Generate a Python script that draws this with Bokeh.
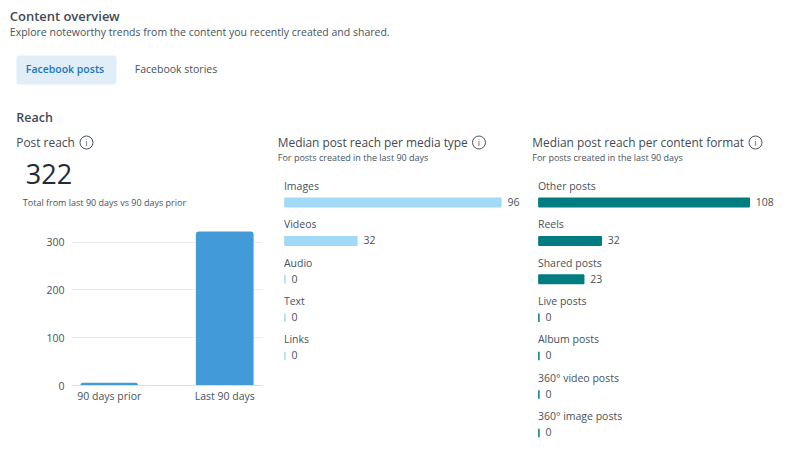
from bokeh.plotting import figure
from bokeh.layouts import column, row
from bokeh.models import Range1d, FactorRange, ColumnDataSource
from bokeh.core.properties import value
from bokeh.embed import file_html
from bokeh.resources import INLINE

# ---- data ----
reach_periods = ["90 days prior", "Last 90 days"]
reach_values = [6, 322]
reach_ticks = [0, 100, 200, 300]
media_types = ["Images", "Videos", "Audio", "Text", "Links"]
media_values = [96, 32, 0, 0, 0]
format_types = ["Other posts", "Reels", "Shared posts", "Live posts", "Album posts",
                "360° video posts", "360° image posts"]
format_values = [108, 32, 23, 0, 0, 0, 0]

FONT = "Open Sans"
SEMI = "Open Sans SemiBold"
INK = "#3f4a54"
SOFT = "#47525c"
DARK = "#1f2c3a"
ROW_PX = 38.4


def txt(p, x, y, s, size, color=INK, style="normal", align="left", font=FONT, **kw):
    p.text([x - 0.7], [y - 0.7], text=[s], text_font=value(font), text_font_size=f"{size}px",
           text_color=color, text_font_style=style, text_align=align,
           text_baseline="middle", **kw)


def info(p, x, y, **kw):
    p.scatter([x], [y], size=13, marker="circle", fill_color=None, line_color="#4a545e",
              line_width=1, **kw)
    txt(p, x + 0.7, y + 0.7, "i", 9, color="#4a545e", align="center", **kw)


def page_fig(x0, x1, y0, y1):
    p = figure(width=x1 - x0, height=y1 - y0, x_range=Range1d(x0, x1), y_range=Range1d(y1, y0),
               x_axis_location=None, y_axis_location=None, toolbar_location=None,
               output_backend="svg", min_border=0, frame_align=False)
    p.grid.visible = False
    p.outline_line_color = None
    return p


# ---- header ----
head = page_fig(0, 781, 0, 130)
txt(head, 10, 16.5, "Content overview", 13, font=SEMI)
txt(head, 10, 32, "Explore noteworthy trends from the content you recently created and shared.", 10.5, color=SOFT)
head.quad(left=[16], right=[116], top=[55], bottom=[84], fill_color="#e1eef8", line_color=None, border_radius=3)
txt(head, 26, 69.5, "Facebook posts", 10.5, color="#1a75bb", font=SEMI)
txt(head, 135, 69.5, "Facebook stories", 10.5, color=SOFT)
txt(head, 16.5, 117.5, "Reach", 12.5, font=SEMI)

# ---- left column ----
lhead = page_fig(0, 270, 130, 222)
txt(lhead, 16.5, 142, "Post reach", 11.9)
info(lhead, 86, 142)
txt(lhead, 26, 174.5, "322", 27, color=DARK)
txt(lhead, 23, 203, "Total from last 90 days vs 90 days prior", 9, color=SOFT)

chart = figure(width=270, height=188, frame_width=191, frame_height=163,
               x_range=FactorRange(factors=reach_periods, range_padding=-0.173),
               y_range=Range1d(0, 341), toolbar_location=None, output_backend="svg",
               min_border_left=71, min_border_right=8, min_border_top=0, min_border_bottom=25,
               frame_align=False)
chart.vbar(x=reach_periods, top=reach_values, width=0.5, fill_color="#429bd8",
           line_color=None, border_radius=(3, 3, 0, 0))
chart.outline_line_color = None
chart.xgrid.visible = False
chart.ygrid.grid_line_color = "#e9eaec"
chart.ygrid.level = "underlay"
chart.yaxis.ticker = reach_ticks
chart.yaxis.axis_line_color = None
chart.yaxis.major_tick_line_color = None
chart.yaxis.minor_tick_line_color = None
chart.yaxis.major_label_standoff = 1
chart.xaxis.axis_line_color = "#dcdee0"
chart.xaxis.major_tick_line_color = None
chart.xaxis.minor_tick_line_color = None
chart.xaxis.major_label_standoff = -3
for ax in (chart.xaxis, chart.yaxis):
    ax.major_label_text_font = FONT
    ax.major_label_text_font_size = "10.5px"
    ax.major_label_text_color = SOFT


# ---- horizontal bar panels ----
def bar_panel(x0, x1, zero_x, px_per_unit, cats, vals, color, title, icon_x, title_x):
    y0, y1, first = 130, 440, 202
    p = figure(width=x1 - x0, height=y1 - y0,
               x_range=Range1d((x0 - zero_x) / px_per_unit, (x1 - zero_x) / px_per_unit),
               y_range=Range1d((y1 - first) / ROW_PX, (y0 - first) / ROW_PX),
               x_axis_location=None, y_axis_location=None, toolbar_location=None,
               output_backend="svg", min_border=0, frame_align=False)
    p.grid.visible = False
    p.outline_line_color = None
    p.extra_x_ranges["px"] = Range1d(x0, x1)
    p.extra_y_ranges["px"] = Range1d(y1, y0)
    kw = dict(x_range_name="px", y_range_name="px")
    txt(p, title_x, 142, title, 11.9, **kw)
    info(p, icon_x, 142, **kw)
    txt(p, title_x, 158, "For posts created in the last 90 days", 9, color=SOFT, **kw)

    idx = list(range(len(cats)))
    src = ColumnDataSource(dict(y=idx, cat=cats, val=vals, lab=[str(v) for v in vals]))
    p.hbar(y="y", left=0, right="val", height=8.5 / ROW_PX, source=src, fill_color=color,
           line_color=color, line_width=1.5)
    p.text(x=0, y="y", text="cat", source=src, text_font=value(FONT), text_font_size="10.5px",
           text_color=SOFT, text_baseline="middle", x_offset=-1, y_offset=-16.7)
    p.text(x="val", y="y", text="lab", source=src, text_font=value(FONT), text_font_size="10.5px",
           text_color=SOFT, text_baseline="middle", x_offset=6.5, y_offset=-0.7)
    return p


mid = bar_panel(270, 525, 284.4, 2.25, media_types, media_values, "#a1d9f7",
                "Median post reach per media type", 478.5, 278)
right = bar_panel(525, 781, 538.4, 1.948, format_types, format_values, "#017c80",
                  "Median post reach per content format", 755, 532.5)

page = column(head, row(column(lhead, chart, spacing=0), mid, right, spacing=0), spacing=0)
open("out.html", "w").write(file_html(page, INLINE))
